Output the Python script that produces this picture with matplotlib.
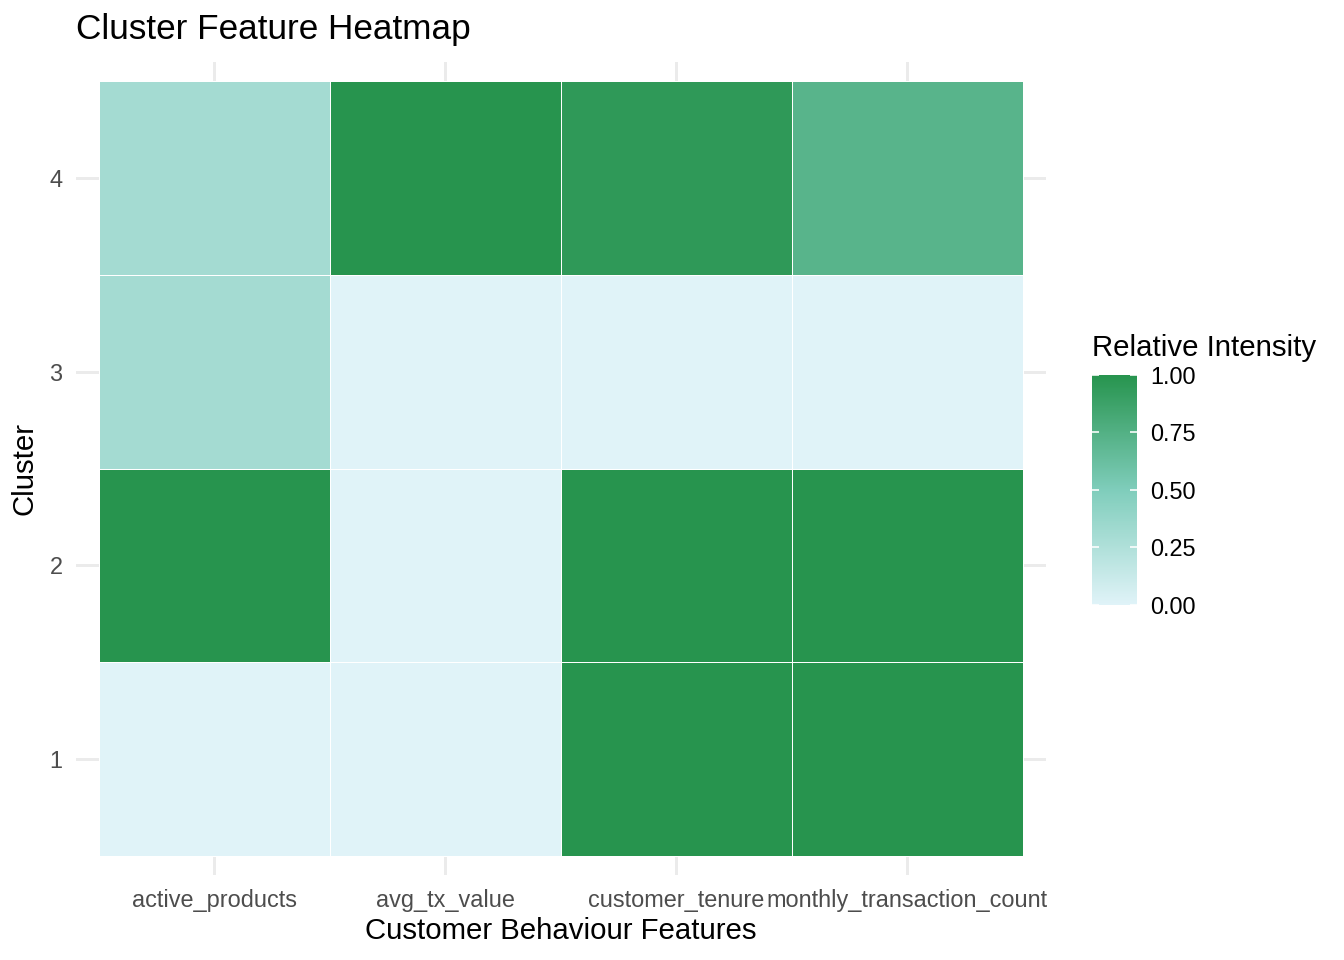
import matplotlib
matplotlib.use("Agg")
import matplotlib.pyplot as plt
import numpy as np
from matplotlib.colors import LinearSegmentedColormap, Normalize
from matplotlib.cm import ScalarMappable

features = ["active_products", "avg_tx_value", "customer_tenure", "monthly_transaction_count"]
clusters = ["1", "2", "3", "4"]
# rows = clusters 1..4, columns = features
intensity_c1 = [0.0, 0.0, 1.0, 1.0]
intensity_c2 = [1.0, 0.0, 1.0, 1.0]
intensity_c3 = [0.31, 0.0, 0.0, 0.0]
intensity_c4 = [0.31, 1.0, 0.95, 0.72]
legend_ticks = [0.0, 0.25, 0.5, 0.75, 1.0]

plt.rcParams['font.family'] = ['Liberation Sans', 'DejaVu Sans']

values = np.array([intensity_c1, intensity_c2, intensity_c3, intensity_c4])

cmap = LinearSegmentedColormap.from_list(
    "grad", [(0.0, "#e0f3f8"), (0.5, "#7fcdbb"), (1.0, "#27944e")])
norm = Normalize(0, 1)

fig = plt.figure(figsize=(7, 5), dpi=192)
ax = fig.add_axes([0.0565, 0.0881, 0.7215, 0.8477])

xe = np.arange(len(features) + 1) + 0.5
ye = np.arange(len(clusters) + 1) + 0.5
ax.pcolormesh(xe, ye, values, cmap=cmap, norm=norm, edgecolors="white",
              linewidth=0.35, zorder=2)

ax.set_xlim(0.4, len(features) + 0.6)
ax.set_ylim(0.4, len(clusters) + 0.6)
ax.set_xticks(np.arange(1, len(features) + 1))
ax.set_xticklabels(features)
ax.set_yticks(np.arange(1, len(clusters) + 1))
ax.set_yticklabels(clusters)
ax.grid(True, color="#ebebeb", linewidth=1.1, zorder=0)
ax.set_axisbelow(True)
for s in ax.spines.values():
    s.set_visible(False)
ax.tick_params(length=0, labelsize=8.8, labelcolor="#4d4d4d", pad=5)

ax.set_xlabel("Customer Behaviour Features", fontsize=11, labelpad=2)
ax.set_ylabel("Cluster", fontsize=11, labelpad=4)
fig.text(0.0565, 0.969, "Cluster Feature Heatmap", fontsize=13.2,
         ha="left", va="center")

cax = fig.add_axes([0.8125, 0.3698, 0.0335, 0.2396])
cb = fig.colorbar(ScalarMappable(norm=norm, cmap=cmap), cax=cax,
                  ticks=legend_ticks)
cb.outline.set_visible(False)
cb.ax.set_yticklabels([f"{t:.2f}" for t in legend_ticks])
cb.ax.tick_params(direction="in", color="white", length=2.5, width=0.6,
                  left=True, right=True, labelsize=8.8, pad=5)
fig.text(0.8125, 0.638, "Relative Intensity", fontsize=11, ha="left", va="center")

fig.savefig("out.png", dpi=192)
